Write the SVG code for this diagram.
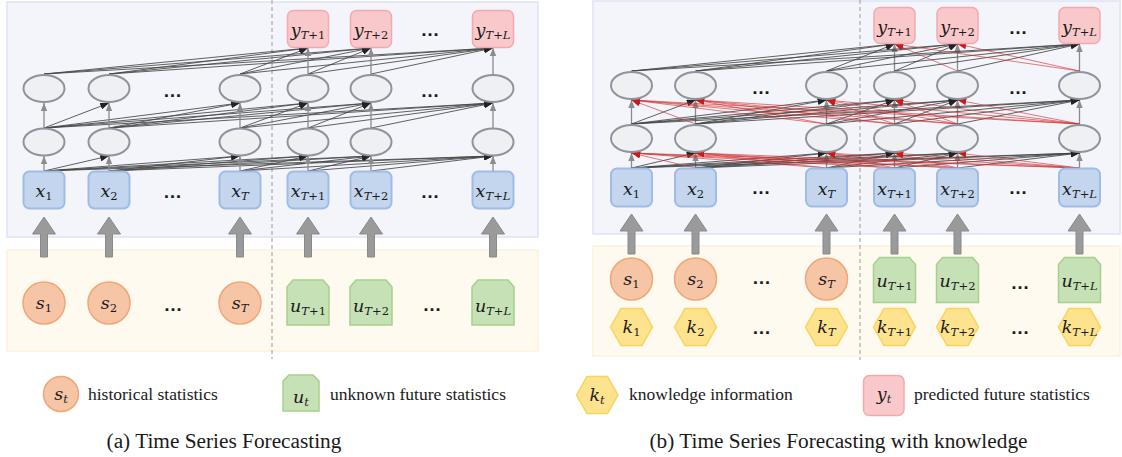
<svg xmlns="http://www.w3.org/2000/svg" xmlns:xlink="http://www.w3.org/1999/xlink" width="1122" height="457" viewBox="0 0 1122 457">
<style>
.bgb{fill:#f3f5fb;stroke:#dde4f3;stroke-width:1.5}
.bgy{fill:#fffaef;stroke:#fdf1da;stroke-width:1.5}
.xr{fill:#c4d5ee;stroke:#9fbce6;stroke-width:2}
.el{fill:#eef0f4;stroke:#8d949c;stroke-width:2}
.yr{fill:#f9c8cb;stroke:#f4a9ae;stroke-width:1.5}
.sc{fill:#f6c5a6;stroke:#f0a676;stroke-width:1.5}
.uc{fill:#c7e1b7;stroke:#a6d08c;stroke-width:1.5}
.kh{fill:#fee38f;stroke:#fad35c;stroke-width:1.5}
.ba{fill:#9a9a9a;stroke:#8a8a8a;stroke-width:1}
.dash{stroke:#9a9a9a;stroke-width:1;stroke-dasharray:4 3;fill:none}
.f{stroke:#444;stroke-width:0.85;fill:none;marker-end:url(#ab)}
.v{stroke:#8a8a8a;stroke-width:1.3;fill:none;marker-end:url(#ag)}
.r{stroke:#d23030;stroke-width:0.85;stroke-opacity:0.75;fill:none;marker-end:url(#ar)}
.m{font-family:"DejaVu Serif",serif;font-style:italic;font-size:17.5px;fill:#1a1a1a;text-anchor:middle}
.s{font-size:11.5px}
.n{font-style:normal}
.dots{font-family:"Liberation Sans",sans-serif;font-weight:bold;font-size:19px;text-anchor:middle;fill:#1a1a1a}
.lg{font-family:"Liberation Serif","Times New Roman",serif;font-size:17.5px;fill:#1a1a1a}
.cap{font-family:"Liberation Serif","Times New Roman",serif;font-size:21.3px;fill:#1a1a1a;text-anchor:middle}
</style>
<defs>
<marker id="ab" viewBox="0 0 10 8" refX="10" refY="4" markerWidth="9" markerHeight="7" markerUnits="userSpaceOnUse" orient="auto"><path d="M0 0L10 4L0 8z" fill="#222"/></marker>
<marker id="ag" viewBox="0 0 10 8" refX="10" refY="4" markerWidth="8" markerHeight="8" markerUnits="userSpaceOnUse" orient="auto"><path d="M0 0L10 4L0 8z" fill="#8c8c8c"/></marker>
<marker id="ar" viewBox="0 0 10 8" refX="10" refY="4" markerWidth="9" markerHeight="7" markerUnits="userSpaceOnUse" orient="auto"><path d="M0 0L10 4L0 8z" fill="#cc1a1a"/></marker>
<path id="ushape" d="M-21 45L-21 7L-15 0L15 0L21 7L21 45Z"/>
<path id="hex" d="M-21 0L-10.5 -18.5L10.5 -18.5L21 0L10.5 18.5L-10.5 18.5Z"/>
<path id="barr" d="M0 0L11.5 17L3.5 17L3.5 40L-3.5 40L-3.5 17L-11.5 17Z"/>
</defs>

<g id="backgrounds">
<rect class="bgb" x="7" y="2" width="531" height="235"/>
<rect class="bgy" x="7" y="250" width="531" height="101"/>
<rect class="bgb" x="593" y="1" width="527" height="233"/>
<rect class="bgy" x="593" y="246" width="527" height="110"/>
<path class="dash" d="M272 0V359"/>
<path class="dash" d="M860 0V360"/>
</g>

<g id="big-arrows">
<use href="#barr" class="ba" x="44" y="217"/>
<use href="#barr" class="ba" x="109" y="217"/>
<use href="#barr" class="ba" x="240" y="217"/>
<use href="#barr" class="ba" x="308" y="217"/>
<use href="#barr" class="ba" x="371" y="217"/>
<use href="#barr" class="ba" x="493" y="217"/>
<use href="#barr" class="ba" x="631.5" y="214"/>
<use href="#barr" class="ba" x="695.5" y="214"/>
<use href="#barr" class="ba" x="826.5" y="214"/>
<use href="#barr" class="ba" x="894.5" y="214"/>
<use href="#barr" class="ba" x="957.5" y="214"/>
<use href="#barr" class="ba" x="1079.5" y="214"/>
</g>

<g id="connectors">
<path class="f" d="M44 171L109 156"/><path class="f" d="M44 171L240 156"/><path class="f" d="M44 171L308 156"/><path class="f" d="M44 171L371 156"/><path class="f" d="M44 171L493 156"/>
<path class="f" d="M109 171L240 156"/><path class="f" d="M109 171L308 156"/><path class="f" d="M109 171L371 156"/><path class="f" d="M109 171L493 156"/>
<path class="f" d="M240 171L308 156"/><path class="f" d="M240 171L371 156"/><path class="f" d="M240 171L493 156"/>
<path class="f" d="M308 171L371 156"/><path class="f" d="M308 171L493 156"/>
<path class="f" d="M371 171L493 156"/>
<path class="v" d="M44 171L44 156"/><path class="v" d="M109 171L109 156"/><path class="v" d="M240 171L240 156"/><path class="v" d="M308 171L308 156"/><path class="v" d="M371 171L371 156"/><path class="v" d="M493 171L493 156"/>
<path class="f" d="M44 128L109 103"/><path class="f" d="M44 128L240 103"/><path class="f" d="M44 128L308 103"/><path class="f" d="M44 128L371 103"/><path class="f" d="M44 128L493 103"/>
<path class="f" d="M109 128L240 103"/><path class="f" d="M109 128L308 103"/><path class="f" d="M109 128L371 103"/><path class="f" d="M109 128L493 103"/>
<path class="f" d="M240 128L308 103"/><path class="f" d="M240 128L371 103"/><path class="f" d="M240 128L493 103"/>
<path class="f" d="M308 128L371 103"/><path class="f" d="M308 128L493 103"/>
<path class="f" d="M371 128L493 103"/>
<path class="v" d="M44 128L44 103"/><path class="v" d="M109 128L109 103"/><path class="v" d="M240 128L240 103"/><path class="v" d="M308 128L308 103"/><path class="v" d="M371 128L371 103"/><path class="v" d="M493 128L493 103"/>
<path class="f" d="M44 74L308 48"/><path class="f" d="M44 74L371 48"/><path class="f" d="M44 74L493 48"/>
<path class="f" d="M109 74L308 48"/><path class="f" d="M109 74L371 48"/><path class="f" d="M109 74L493 48"/>
<path class="f" d="M240 74L308 48"/><path class="f" d="M240 74L371 48"/><path class="f" d="M240 74L493 48"/>
<path class="f" d="M308 74L371 48"/><path class="f" d="M308 74L493 48"/>
<path class="f" d="M371 74L493 48"/>
<path class="v" d="M308 74L308 48"/><path class="v" d="M371 74L371 48"/><path class="v" d="M493 74L493 48"/>

<path class="v" d="M631.5 168L631.5 153"/><path class="v" d="M695.5 168L695.5 153"/><path class="v" d="M826.5 168L826.5 153"/><path class="v" d="M894.5 168L894.5 153"/><path class="v" d="M957.5 168L957.5 153"/><path class="v" d="M1079.5 168L1079.5 153"/>
<path class="f" d="M631.5 168L695.5 153"/><path class="f" d="M631.5 168L826.5 153"/><path class="f" d="M631.5 168L894.5 153"/><path class="f" d="M631.5 168L957.5 153"/><path class="f" d="M631.5 168L1079.5 153"/>
<path class="f" d="M695.5 168L826.5 153"/><path class="f" d="M695.5 168L894.5 153"/><path class="f" d="M695.5 168L957.5 153"/><path class="f" d="M695.5 168L1079.5 153"/>
<path class="f" d="M826.5 168L894.5 153"/><path class="f" d="M826.5 168L957.5 153"/><path class="f" d="M826.5 168L1079.5 153"/>
<path class="f" d="M894.5 168L957.5 153"/><path class="f" d="M894.5 168L1079.5 153"/>
<path class="f" d="M957.5 168L1079.5 153"/>
<path class="r" d="M695.5 168L631.5 153"/>
<path class="r" d="M826.5 168L631.5 153"/><path class="r" d="M826.5 168L695.5 153"/>
<path class="r" d="M894.5 168L631.5 153"/><path class="r" d="M894.5 168L695.5 153"/><path class="r" d="M894.5 168L826.5 153"/>
<path class="r" d="M957.5 168L631.5 153"/><path class="r" d="M957.5 168L695.5 153"/><path class="r" d="M957.5 168L826.5 153"/><path class="r" d="M957.5 168L894.5 153"/>
<path class="r" d="M1079.5 168L631.5 153"/><path class="r" d="M1079.5 168L695.5 153"/><path class="r" d="M1079.5 168L826.5 153"/><path class="r" d="M1079.5 168L894.5 153"/><path class="r" d="M1079.5 168L957.5 153"/>
<path class="v" d="M631.5 124L631.5 100"/><path class="v" d="M695.5 124L695.5 100"/><path class="v" d="M826.5 124L826.5 100"/><path class="v" d="M894.5 124L894.5 100"/><path class="v" d="M957.5 124L957.5 100"/><path class="v" d="M1079.5 124L1079.5 100"/>
<path class="f" d="M631.5 124L695.5 100"/><path class="f" d="M631.5 124L826.5 100"/><path class="f" d="M631.5 124L894.5 100"/><path class="f" d="M631.5 124L957.5 100"/><path class="f" d="M631.5 124L1079.5 100"/>
<path class="f" d="M695.5 124L826.5 100"/><path class="f" d="M695.5 124L894.5 100"/><path class="f" d="M695.5 124L957.5 100"/><path class="f" d="M695.5 124L1079.5 100"/>
<path class="f" d="M826.5 124L894.5 100"/><path class="f" d="M826.5 124L957.5 100"/><path class="f" d="M826.5 124L1079.5 100"/>
<path class="f" d="M894.5 124L957.5 100"/><path class="f" d="M894.5 124L1079.5 100"/>
<path class="f" d="M957.5 124L1079.5 100"/>
<path class="r" d="M695.5 124L631.5 100"/>
<path class="r" d="M826.5 124L631.5 100"/><path class="r" d="M826.5 124L695.5 100"/>
<path class="r" d="M894.5 124L631.5 100"/><path class="r" d="M894.5 124L695.5 100"/><path class="r" d="M894.5 124L826.5 100"/>
<path class="r" d="M957.5 124L631.5 100"/><path class="r" d="M957.5 124L695.5 100"/><path class="r" d="M957.5 124L826.5 100"/><path class="r" d="M957.5 124L894.5 100"/>
<path class="r" d="M1079.5 124L631.5 100"/><path class="r" d="M1079.5 124L695.5 100"/><path class="r" d="M1079.5 124L826.5 100"/><path class="r" d="M1079.5 124L894.5 100"/><path class="r" d="M1079.5 124L957.5 100"/>
<path class="v" d="M894.5 71L894.5 44"/><path class="v" d="M957.5 71L957.5 44"/><path class="v" d="M1079.5 71L1079.5 44"/>
<path class="f" d="M631.5 71L894.5 44"/><path class="f" d="M631.5 71L957.5 44"/><path class="f" d="M631.5 71L1079.5 44"/>
<path class="f" d="M695.5 71L894.5 44"/><path class="f" d="M695.5 71L957.5 44"/><path class="f" d="M695.5 71L1079.5 44"/>
<path class="f" d="M826.5 71L894.5 44"/><path class="f" d="M826.5 71L957.5 44"/><path class="f" d="M826.5 71L1079.5 44"/>
<path class="f" d="M894.5 71L957.5 44"/><path class="f" d="M894.5 71L1079.5 44"/>
<path class="f" d="M957.5 71L1079.5 44"/>
<path class="r" d="M957.5 71L894.5 44"/><path class="r" d="M1079.5 71L894.5 44"/><path class="r" d="M1079.5 71L957.5 44"/>
</g>

<g id="a-y1"><rect class="yr" x="287.5" y="10.5" width="41" height="37" rx="6"/><text class="m" x="308" y="36">y<tspan class="s" dy="3">T<tspan class="n">+1</tspan></tspan></text></g>
<g id="a-y2"><rect class="yr" x="350.5" y="10.5" width="41" height="37" rx="6"/><text class="m" x="371" y="36">y<tspan class="s" dy="3">T<tspan class="n">+2</tspan></tspan></text></g>
<g id="a-yL"><rect class="yr" x="472.5" y="10.5" width="41" height="37" rx="6"/><text class="m" x="493" y="36">y<tspan class="s" dy="3">T<tspan class="n">+</tspan>L</tspan></text></g>

<g id="a-h2-1"><ellipse class="el" cx="44" cy="88.5" rx="20.5" ry="13.5"/></g>
<g id="a-h2-2"><ellipse class="el" cx="109" cy="88.5" rx="20.5" ry="13.5"/></g>
<g id="a-h2-T"><ellipse class="el" cx="240" cy="88.5" rx="20.5" ry="13.5"/></g>
<g id="a-h2-T1"><ellipse class="el" cx="308" cy="88.5" rx="20.5" ry="13.5"/></g>
<g id="a-h2-T2"><ellipse class="el" cx="371" cy="88.5" rx="20.5" ry="13.5"/></g>
<g id="a-h2-TL"><ellipse class="el" cx="493" cy="88.5" rx="20.5" ry="13.5"/></g>

<g id="a-h1-1"><ellipse class="el" cx="44" cy="142" rx="20.5" ry="13.5"/></g>
<g id="a-h1-2"><ellipse class="el" cx="109" cy="142" rx="20.5" ry="13.5"/></g>
<g id="a-h1-T"><ellipse class="el" cx="240" cy="142" rx="20.5" ry="13.5"/></g>
<g id="a-h1-T1"><ellipse class="el" cx="308" cy="142" rx="20.5" ry="13.5"/></g>
<g id="a-h1-T2"><ellipse class="el" cx="371" cy="142" rx="20.5" ry="13.5"/></g>
<g id="a-h1-TL"><ellipse class="el" cx="493" cy="142" rx="20.5" ry="13.5"/></g>

<g id="a-x1"><rect class="xr" x="23.5" y="171.5" width="41" height="37" rx="6"/><text class="m" x="44" y="197">x<tspan class="s n" dy="3">1</tspan></text></g>
<g id="a-x2"><rect class="xr" x="88.5" y="171.5" width="41" height="37" rx="6"/><text class="m" x="109" y="197">x<tspan class="s n" dy="3">2</tspan></text></g>
<g id="a-xT"><rect class="xr" x="219.5" y="171.5" width="41" height="37" rx="6"/><text class="m" x="240" y="197">x<tspan class="s" dy="3">T</tspan></text></g>
<g id="a-xT1"><rect class="xr" x="287.5" y="171.5" width="41" height="37" rx="6"/><text class="m" x="308" y="197">x<tspan class="s" dy="3">T<tspan class="n">+1</tspan></tspan></text></g>
<g id="a-xT2"><rect class="xr" x="350.5" y="171.5" width="41" height="37" rx="6"/><text class="m" x="371" y="197">x<tspan class="s" dy="3">T<tspan class="n">+2</tspan></tspan></text></g>
<g id="a-xTL"><rect class="xr" x="472.5" y="171.5" width="41" height="37" rx="6"/><text class="m" x="493" y="197">x<tspan class="s" dy="3">T<tspan class="n">+</tspan>L</tspan></text></g>

<g id="a-s1"><circle class="sc" cx="44" cy="303" r="21"/><text class="m" x="44" y="309">s<tspan class="s n" dy="3">1</tspan></text></g>
<g id="a-s2"><circle class="sc" cx="109" cy="303" r="21"/><text class="m" x="109" y="309">s<tspan class="s n" dy="3">2</tspan></text></g>
<g id="a-sT"><circle class="sc" cx="240" cy="303" r="21"/><text class="m" x="240" y="309">s<tspan class="s" dy="3">T</tspan></text></g>
<g id="a-u1"><use href="#ushape" class="uc" x="308" y="280"/><text class="m" x="308" y="312">u<tspan class="s" dy="3">T<tspan class="n">+1</tspan></tspan></text></g>
<g id="a-u2"><use href="#ushape" class="uc" x="371" y="280"/><text class="m" x="371" y="312">u<tspan class="s" dy="3">T<tspan class="n">+2</tspan></tspan></text></g>
<g id="a-uL"><use href="#ushape" class="uc" x="493" y="280"/><text class="m" x="493" y="312">u<tspan class="s" dy="3">T<tspan class="n">+</tspan>L</tspan></text></g>

<g id="a-dots">
<text class="dots" x="430" y="36">…</text>
<text class="dots" x="172.5" y="97">…</text>
<text class="dots" x="430" y="97">…</text>
<text class="dots" x="172.5" y="198">…</text>
<text class="dots" x="430" y="198">…</text>
<text class="dots" x="173" y="311">…</text>
<text class="dots" x="432" y="311">…</text>
</g>

<g id="b-y1"><rect class="yr" x="874" y="7.5" width="41" height="36" rx="6"/><text class="m" x="894.5" y="32.5">y<tspan class="s" dy="3">T<tspan class="n">+1</tspan></tspan></text></g>
<g id="b-y2"><rect class="yr" x="937" y="7.5" width="41" height="36" rx="6"/><text class="m" x="957.5" y="32.5">y<tspan class="s" dy="3">T<tspan class="n">+2</tspan></tspan></text></g>
<g id="b-yL"><rect class="yr" x="1059" y="7.5" width="41" height="36" rx="6"/><text class="m" x="1079.5" y="32.5">y<tspan class="s" dy="3">T<tspan class="n">+</tspan>L</tspan></text></g>

<g id="b-h2-1"><ellipse class="el" cx="631.5" cy="85.5" rx="20.5" ry="13.5"/></g>
<g id="b-h2-2"><ellipse class="el" cx="695.5" cy="85.5" rx="20.5" ry="13.5"/></g>
<g id="b-h2-T"><ellipse class="el" cx="826.5" cy="85.5" rx="20.5" ry="13.5"/></g>
<g id="b-h2-T1"><ellipse class="el" cx="894.5" cy="85.5" rx="20.5" ry="13.5"/></g>
<g id="b-h2-T2"><ellipse class="el" cx="957.5" cy="85.5" rx="20.5" ry="13.5"/></g>
<g id="b-h2-TL"><ellipse class="el" cx="1079.5" cy="85.5" rx="20.5" ry="13.5"/></g>

<g id="b-h1-1"><ellipse class="el" cx="631.5" cy="138.5" rx="20.5" ry="13.5"/></g>
<g id="b-h1-2"><ellipse class="el" cx="695.5" cy="138.5" rx="20.5" ry="13.5"/></g>
<g id="b-h1-T"><ellipse class="el" cx="826.5" cy="138.5" rx="20.5" ry="13.5"/></g>
<g id="b-h1-T1"><ellipse class="el" cx="894.5" cy="138.5" rx="20.5" ry="13.5"/></g>
<g id="b-h1-T2"><ellipse class="el" cx="957.5" cy="138.5" rx="20.5" ry="13.5"/></g>
<g id="b-h1-TL"><ellipse class="el" cx="1079.5" cy="138.5" rx="20.5" ry="13.5"/></g>

<g id="b-x1"><rect class="xr" x="611" y="168.5" width="41" height="38" rx="6"/><text class="m" x="631.5" y="194.5">x<tspan class="s n" dy="3">1</tspan></text></g>
<g id="b-x2"><rect class="xr" x="675" y="168.5" width="41" height="38" rx="6"/><text class="m" x="695.5" y="194.5">x<tspan class="s n" dy="3">2</tspan></text></g>
<g id="b-xT"><rect class="xr" x="806" y="168.5" width="41" height="38" rx="6"/><text class="m" x="826.5" y="194.5">x<tspan class="s" dy="3">T</tspan></text></g>
<g id="b-xT1"><rect class="xr" x="874" y="168.5" width="41" height="38" rx="6"/><text class="m" x="894.5" y="194.5">x<tspan class="s" dy="3">T<tspan class="n">+1</tspan></tspan></text></g>
<g id="b-xT2"><rect class="xr" x="937" y="168.5" width="41" height="38" rx="6"/><text class="m" x="957.5" y="194.5">x<tspan class="s" dy="3">T<tspan class="n">+2</tspan></tspan></text></g>
<g id="b-xTL"><rect class="xr" x="1059" y="168.5" width="41" height="38" rx="6"/><text class="m" x="1079.5" y="194.5">x<tspan class="s" dy="3">T<tspan class="n">+</tspan>L</tspan></text></g>

<g id="b-s1"><circle class="sc" cx="631.5" cy="279" r="21"/><text class="m" x="631.5" y="285">s<tspan class="s n" dy="3">1</tspan></text></g>
<g id="b-s2"><circle class="sc" cx="695.5" cy="279" r="21"/><text class="m" x="695.5" y="285">s<tspan class="s n" dy="3">2</tspan></text></g>
<g id="b-sT"><circle class="sc" cx="826.5" cy="279" r="21"/><text class="m" x="826.5" y="285">s<tspan class="s" dy="3">T</tspan></text></g>
<g id="b-u1"><use href="#ushape" class="uc" x="894.5" y="257.5"/><text class="m" x="894.5" y="287">u<tspan class="s" dy="3">T<tspan class="n">+1</tspan></tspan></text></g>
<g id="b-u2"><use href="#ushape" class="uc" x="957.5" y="257.5"/><text class="m" x="957.5" y="287">u<tspan class="s" dy="3">T<tspan class="n">+2</tspan></tspan></text></g>
<g id="b-uL"><use href="#ushape" class="uc" x="1079.5" y="257.5"/><text class="m" x="1079.5" y="287">u<tspan class="s" dy="3">T<tspan class="n">+</tspan>L</tspan></text></g>

<g id="b-k1"><use href="#hex" class="kh" x="631.5" y="327"/><text class="m" x="631.5" y="333">k<tspan class="s n" dy="3">1</tspan></text></g>
<g id="b-k2"><use href="#hex" class="kh" x="695.5" y="327"/><text class="m" x="695.5" y="333">k<tspan class="s n" dy="3">2</tspan></text></g>
<g id="b-kT"><use href="#hex" class="kh" x="826.5" y="327"/><text class="m" x="826.5" y="333">k<tspan class="s" dy="3">T</tspan></text></g>
<g id="b-kT1"><use href="#hex" class="kh" x="894.5" y="327"/><text class="m" x="894.5" y="333">k<tspan class="s" dy="3">T<tspan class="n">+1</tspan></tspan></text></g>
<g id="b-kT2"><use href="#hex" class="kh" x="957.5" y="327"/><text class="m" x="957.5" y="333">k<tspan class="s" dy="3">T<tspan class="n">+2</tspan></tspan></text></g>
<g id="b-kTL"><use href="#hex" class="kh" x="1079.5" y="327"/><text class="m" x="1079.5" y="333">k<tspan class="s" dy="3">T<tspan class="n">+</tspan>L</tspan></text></g>

<g id="b-dots">
<text class="dots" x="1018" y="34">…</text>
<text class="dots" x="761" y="94">…</text>
<text class="dots" x="1018" y="94">…</text>
<text class="dots" x="761" y="194">…</text>
<text class="dots" x="1018" y="194">…</text>
<text class="dots" x="761.5" y="284">…</text>
<text class="dots" x="1020" y="289">…</text>
<text class="dots" x="761.5" y="334">…</text>
<text class="dots" x="1020" y="334">…</text>
</g>

<g id="legend-s"><circle class="sc" cx="61" cy="394" r="17.5"/><text class="m" x="61" y="400">s<tspan class="s" dy="3">t</tspan></text><text class="lg" x="88" y="400">historical statistics</text></g>
<g id="legend-u"><path class="uc" d="M283 411L283 381L289 375L313 375L319 381L319 411Z"/><text class="m" x="301" y="403">u<tspan class="s" dy="3">t</tspan></text><text class="lg" x="330" y="400">unknown future statistics</text></g>
<g id="legend-k"><path class="kh" d="M576.5 395L587 376.5L607.5 376.5L618 395L607.5 413.5L587 413.5Z"/><text class="m" x="597" y="401">k<tspan class="s" dy="3">t</tspan></text><text class="lg" x="629" y="400">knowledge information</text></g>
<g id="legend-y"><rect class="yr" x="863.5" y="375.5" width="40.5" height="40" rx="6"/><text class="m" x="884" y="400">y<tspan class="s" dy="3">t</tspan></text><text class="lg" x="914" y="400">predicted future statistics</text></g>

<text class="cap" x="224" y="448">(a) Time Series Forecasting</text>
<text class="cap" x="838.5" y="448">(b) Time Series Forecasting with knowledge</text>
</svg>
